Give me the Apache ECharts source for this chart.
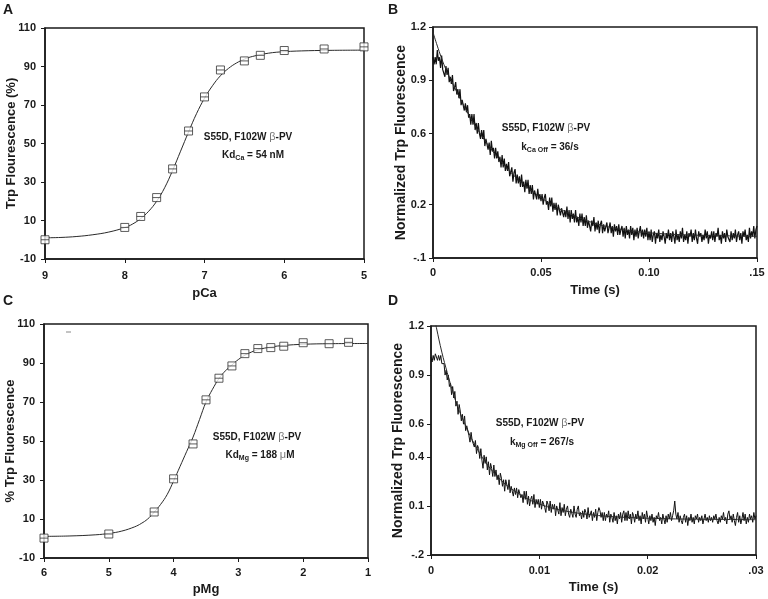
<!DOCTYPE html>
<html>
<head>
<meta charset="utf-8">
<title>S55D, F102W beta-PV</title>
<script src="https://cdn.jsdelivr.net/npm/echarts@6.0.0/dist/echarts.min.js"></script>
<style>
  html, body { margin: 0; padding: 0; background: #fff; }
  #chart { width: 768px; height: 599px; }
</style>
</head>
<body>
<div id="chart"></div>
<script>
// Panel A: Ca titration
const pCa = [9.0, 8.0, 7.8, 7.6, 7.4, 7.2, 7.0, 6.8, 6.5, 6.3, 6.0, 5.5, 5.0];
const caFluor = [0.0, 6.4, 12.1, 21.9, 36.8, 56.5, 74.2, 88.2, 92.9, 95.8, 98.3, 99.1, 100.2];
const caFitX = [9.0, 8.8, 8.6, 8.4, 8.2, 8.0, 7.9, 7.8, 7.7, 7.6, 7.5, 7.4, 7.3, 7.2, 7.1, 7.0, 6.9, 6.8, 6.7, 6.6, 6.5, 6.4, 6.2, 6.0, 5.7, 5.4, 5.0];
const caFitY = [1.0, 1.2, 1.7, 2.6, 4.0, 6.3, 8.2, 11.0, 14.8, 20.0, 27.0, 36.0, 46.0, 56.0, 65.5, 73.5, 80.0, 85.2, 89.0, 91.8, 93.8, 95.2, 96.9, 97.7, 98.2, 98.4, 98.5];

// Panel C: Mg titration
const pMg = [6.0, 5.0, 4.3, 4.0, 3.7, 3.5, 3.3, 3.1, 2.9, 2.7, 2.5, 2.3, 2.0, 1.6, 1.3];
const mgFluor = [0.2, 2.3, 13.6, 30.6, 48.5, 71.1, 82.2, 88.5, 94.8, 97.4, 97.9, 98.6, 100.4, 99.9, 100.6];
const mgFitX = [6.0, 5.6, 5.2, 5.0, 4.8, 4.6, 4.5, 4.4, 4.3, 4.2, 4.1, 4.0, 3.9, 3.8, 3.7, 3.6, 3.5, 3.4, 3.3, 3.2, 3.1, 3.0, 2.9, 2.8, 2.7, 2.5, 2.3, 2.0, 1.6, 1.0];
const mgFitY = [1.1, 1.3, 1.9, 2.6, 3.8, 6.0, 7.7, 10.0, 13.5, 17.5, 22.5, 29.5, 37.0, 44.5, 52.0, 61.0, 70.0, 76.5, 82.0, 86.0, 89.0, 91.8, 94.0, 95.6, 96.8, 98.2, 99.0, 99.6, 99.9, 100.0];

// Panel B: Ca off stopped-flow trace, one value per 0.5 ms (20 per row = 10 ms)
const caOffStep = 0.0005;
const caOffTrace = [
  1.03, 0.99, 1.03, 0.99, 1.07, 1.01, 1.03, 0.97, 1.04, 0.96, 0.97, 0.92, 0.98, 0.93, 0.97, 0.89, 0.92, 0.88, 0.93, 0.84,
  0.86, 0.89, 0.82, 0.85, 0.80, 0.85, 0.76, 0.79, 0.80, 0.73, 0.77, 0.72, 0.76, 0.69, 0.71, 0.65, 0.71, 0.65, 0.71, 0.62,
  0.66, 0.60, 0.66, 0.60, 0.57, 0.62, 0.57, 0.62, 0.53, 0.57, 0.58, 0.51, 0.55, 0.48, 0.56, 0.50, 0.52, 0.46, 0.52, 0.46,
  0.50, 0.44, 0.47, 0.41, 0.48, 0.41, 0.46, 0.39, 0.43, 0.39, 0.44, 0.36, 0.37, 0.41, 0.33, 0.38, 0.40, 0.32, 0.37, 0.32,
  0.36, 0.30, 0.37, 0.30, 0.33, 0.27, 0.34, 0.29, 0.34, 0.26, 0.31, 0.26, 0.31, 0.23, 0.28, 0.29, 0.23, 0.29, 0.23, 0.26,
  0.22, 0.26, 0.20, 0.24, 0.26, 0.20, 0.22, 0.17, 0.24, 0.19, 0.24, 0.16, 0.21, 0.17, 0.21, 0.14, 0.20, 0.21, 0.14, 0.18,
  0.19, 0.13, 0.17, 0.13, 0.19, 0.12, 0.17, 0.10, 0.17, 0.12, 0.15, 0.10, 0.17, 0.10, 0.13, 0.08, 0.15, 0.10, 0.15, 0.08,
  0.13, 0.08, 0.14, 0.07, 0.11, 0.12, 0.05, 0.11, 0.08, 0.13, 0.05, 0.10, 0.06, 0.11, 0.04, 0.09, 0.11, 0.04, 0.09, 0.05,
  0.05, 0.10, 0.04, 0.07, 0.10, 0.04, 0.08, 0.02, 0.09, 0.05, 0.08, 0.03, 0.09, 0.03, 0.06, 0.08, 0.02, 0.07, 0.01, 0.08,
  0.03, 0.06, 0.01, 0.08, 0.03, 0.07, 0.00, 0.06, 0.02, 0.07, 0.01, 0.05, 0.08, 0.02, 0.06, 0.01, 0.06, 0.02, 0.07, 0.00,
  0.05, 0.00, 0.06, -0.01, 0.03, 0.05, -0.02, 0.04, 0.01, 0.06, -0.01, 0.03, 0.00, 0.05, 0.02, -0.02, 0.04, 0.01, 0.06, 0.00,
  0.04, -0.01, 0.05, 0.02, -0.02, 0.06, 0.00, 0.03, -0.01, 0.05, 0.01, 0.07, -0.01, 0.03, 0.00, 0.05, -0.02, 0.04, 0.02, 0.06,
  -0.01, 0.04, 0.00, 0.06, 0.01, -0.02, 0.05, 0.02, 0.04, -0.01, 0.03, 0.00, 0.06, 0.01, 0.05, -0.02, 0.03, 0.01, 0.05, 0.00,
  0.05, -0.01, 0.04, 0.02, 0.07, 0.00, 0.03, -0.02, 0.05, 0.01, 0.04, -0.01, 0.06, 0.02, 0.03, -0.01, 0.05, 0.00, 0.04, 0.01,
  0.06, -0.01, 0.03, 0.05, 0.00, 0.04, -0.02, 0.05, 0.02, 0.06, 0.00, 0.03, -0.01, 0.07, 0.01, 0.05, 0.02, 0.08, 0.01, 0.06,
  0.08
];
const caOffFitT = [0, 0.005, 0.01, 0.015, 0.02, 0.025, 0.03, 0.035, 0.04, 0.045, 0.05, 0.055, 0.06, 0.065, 0.07, 0.075, 0.08, 0.09, 0.10, 0.11, 0.12, 0.135, 0.15];
const caOffFitY = [1.17, 0.99, 0.86, 0.74, 0.635, 0.545, 0.465, 0.395, 0.335, 0.285, 0.24, 0.20, 0.168, 0.14, 0.115, 0.095, 0.078, 0.055, 0.042, 0.034, 0.029, 0.025, 0.022];

// Panel D: Mg off stopped-flow trace, one value per 0.1 ms (20 per row = 2 ms)
const mgOffStep = 0.0001;
const mgOffTrace = [
  1.01, 0.98, 1.02, 0.99, 1.03, 1.02, 0.99, 1.02, 0.99, 1.02, 0.97, 0.98, 0.97, 0.90, 0.93, 0.87, 0.90, 0.83, 0.85, 0.78,
  0.83, 0.76, 0.80, 0.71, 0.74, 0.66, 0.72, 0.68, 0.62, 0.66, 0.60, 0.65, 0.56, 0.59, 0.59, 0.53, 0.49, 0.55, 0.50, 0.51,
  0.46, 0.50, 0.42, 0.47, 0.45, 0.39, 0.45, 0.38, 0.33, 0.41, 0.36, 0.40, 0.32, 0.37, 0.29, 0.36, 0.33, 0.28, 0.35, 0.28,
  0.32, 0.26, 0.29, 0.23, 0.30, 0.27, 0.22, 0.26, 0.19, 0.26, 0.25, 0.20, 0.26, 0.18, 0.22, 0.23, 0.16, 0.21, 0.17, 0.21,
  0.15, 0.20, 0.21, 0.15, 0.17, 0.12, 0.19, 0.14, 0.19, 0.11, 0.16, 0.10, 0.14, 0.16, 0.11, 0.17, 0.09, 0.14, 0.11, 0.14,
  0.09, 0.14, 0.08, 0.13, 0.14, 0.09, 0.06, 0.13, 0.11, 0.07, 0.13, 0.06, 0.11, 0.08, 0.11, 0.04, 0.10, 0.09, 0.05, 0.12,
  0.04, 0.09, 0.06, 0.11, 0.04, 0.08, 0.10, 0.05, 0.03, 0.08, 0.07, 0.03, 0.10, 0.05, 0.03, 0.08, 0.10, 0.04, 0.06, 0.02,
  0.07, 0.03, 0.08, 0.06, 0.02, 0.09, 0.03, 0.05, 0.07, 0.01, 0.06, 0.03, 0.08, 0.01, 0.06, 0.09, 0.07, 0.03, 0.06, 0.01,
  0.06, 0.01, 0.05, 0.03, 0.07, 0.00, 0.05, 0.03, 0.00, 0.06, 0.01, 0.04, -0.01, 0.05, 0.02, 0.06, 0.00, 0.05, 0.07, 0.01,
  0.06, 0.01, 0.07, 0.02, 0.05, -0.01, 0.06, 0.04, 0.00, 0.05, 0.02, 0.07, 0.01, 0.04, -0.01, 0.06, 0.02, 0.05, 0.00, 0.07,
  0.03, -0.01, 0.04, 0.01, 0.05, 0.00, 0.03, -0.02, 0.04, 0.02, 0.06, 0.01, 0.03, -0.01, 0.05, 0.02, -0.01, 0.04, 0.00, 0.05,
  0.02, 0.06, 0.01, 0.04, 0.07, 0.13, 0.05, 0.02, 0.06, 0.00, 0.04, 0.01, -0.01, 0.03, 0.05, 0.00, 0.04, -0.02, 0.03, 0.01,
  0.05, 0.00, 0.03, -0.01, 0.04, 0.02, 0.05, 0.00, 0.03, 0.01, 0.04, -0.01, 0.02, 0.05, 0.01, 0.03, 0.00, 0.04, 0.01, 0.03,
  0.00, 0.04, 0.02, 0.05, 0.01, -0.01, 0.03, 0.00, 0.04, 0.02, 0.06, 0.01, 0.03, -0.01, 0.05, 0.07, 0.02, 0.04, 0.00, 0.05,
  0.01, -0.02, 0.03, 0.06, 0.00, 0.04, -0.01, 0.02, 0.06, 0.01, 0.05, -0.01, 0.03, 0.00, 0.05, 0.02, 0.04, 0.00, 0.06, 0.02,
  0.04
];
const mgOffFitT = [0, 0.0005, 0.001, 0.0015, 0.002, 0.0025, 0.003, 0.0035, 0.004, 0.005, 0.006, 0.007, 0.008, 0.009, 0.010, 0.011, 0.012, 0.013, 0.014, 0.016, 0.018, 0.020, 0.023, 0.026, 0.030];
const mgOffFitY = [1.35, 1.19, 1.04, 0.915, 0.80, 0.70, 0.62, 0.545, 0.48, 0.37, 0.29, 0.225, 0.18, 0.14, 0.112, 0.09, 0.074, 0.062, 0.052, 0.038, 0.030, 0.025, 0.020, 0.018, 0.016];

// Tick values and their printed labels
const titrTicksY = [-10, 10, 30, 50, 70, 90, 110];
const titrLabelsY = ['-10', '10', '30', '50', '70', '90', '110'];
const pCaTicks = [9, 8, 7, 6, 5];
const pCaLabels = ['9', '8', '7', '6', '5'];
const pMgTicks = [6, 5, 4, 3, 2, 1];
const pMgLabels = ['6', '5', '4', '3', '2', '1'];
const caTimeTicks = [0, 0.05, 0.10, 0.15];
const caTimeLabels = ['0', '0.05', '0.10', '.15'];
const caNormTicks = [-0.1, 0.2, 0.6, 0.9, 1.2];
const caNormLabels = ['-.1', '0.2', '0.6', '0.9', '1.2'];
const mgTimeTicks = [0, 0.01, 0.02, 0.03];
const mgTimeLabels = ['0', '0.01', '0.02', '.03'];
const mgNormTicks = [-0.2, 0.1, 0.4, 0.6, 0.9, 1.2];
const mgNormLabels = ['-.2', '0.1', '0.4', '0.6', '0.9', '1.2'];

const FONT = '"Liberation Sans", Arial, Helvetica, sans-serif';
const INK = '#1a1a1a';
const SQUARE = 'path://M0,0L10,0L10,10L0,10Z M0,5L10,5';

const zip = (xs, ys) => xs.map((x, i) => [x, ys[i]]);
const trace = (vals, step) => vals.map((v, i) => [i * step, v]);

function labelFor(ticks, labels) {
    return v => {
        const i = ticks.findIndex(t => Math.abs(t - v) < 1e-9);
        return i < 0 ? '' : labels[i];
    };
}

function valueAxis(o) {
    return {
        type: 'value',
        gridIndex: o.grid,
        min: o.min,
        max: o.max,
        inverse: !!o.inverse,
        name: o.name,
        nameLocation: 'middle',
        nameGap: o.nameGap,
        nameMoveOverlap: false,
        nameTextStyle: { fontFamily: FONT, fontWeight: 'bold', fontSize: o.nameSize, color: INK },
        axisLine: { show: true, onZero: false, lineStyle: { color: INK, width: 1.5 } },
        axisTick: { show: true, length: 4, customValues: o.ticks, lineStyle: { color: INK, width: 1 } },
        axisLabel: {
            customValues: o.ticks,
            formatter: labelFor(o.ticks, o.labels),
            margin: o.margin,
            fontFamily: FONT,
            fontWeight: 'bold',
            fontSize: 11,
            color: INK
        },
        splitLine: { show: false }
    };
}

function fitLine(xi, data) {
    return {
        type: 'line', xAxisIndex: xi, yAxisIndex: xi, data,
        smooth: 0.4, showSymbol: false, silent: true,
        lineStyle: { color: '#2a2a2a', width: 1 }, z: 4
    };
}

function points(xi, data) {
    return {
        type: 'scatter', xAxisIndex: xi, yAxisIndex: xi, data,
        symbol: SQUARE, symbolSize: 8,
        itemStyle: { color: '#fff', borderColor: '#333', borderWidth: 1 }, z: 5
    };
}

function rawTrace(xi, data, width) {
    return {
        type: 'line', xAxisIndex: xi, yAxisIndex: xi, data,
        showSymbol: false, silent: true,
        lineStyle: { color: '#111', width }, z: 3
    };
}

const rich = {
    n: { fontFamily: FONT, fontSize: 10, fontWeight: 'bold', fill: INK, lineHeight: 14 },
    s: { fontFamily: FONT, fontSize: 7, fontWeight: 'bold', fill: INK, lineHeight: 7, verticalAlign: 'bottom' },
    g: { fontFamily: FONT, fontSize: 11, fontWeight: 'normal', fill: '#777', lineHeight: 14 }
};

function note(x, y, text) {
    return { type: 'text', x, y, silent: true, style: { text, rich, align: 'center', verticalAlign: 'middle' } };
}

function letter(x, y, text) {
    return { type: 'text', x, y, silent: true, style: { text, fontFamily: FONT, fontSize: 14, fontWeight: 'bold', fill: INK } };
}

const gridStyle = { show: true, borderColor: INK, borderWidth: 1.5, backgroundColor: 'transparent' };

const option = {
    animation: false,
    backgroundColor: '#fff',
    textStyle: { fontFamily: FONT },
    grid: [
        Object.assign({ left: 45, top: 28, width: 319, height: 231 }, gridStyle),
        Object.assign({ left: 433, top: 27, width: 324, height: 231 }, gridStyle),
        Object.assign({ left: 44, top: 324, width: 324, height: 234 }, gridStyle),
        Object.assign({ left: 431, top: 326, width: 325, height: 229 }, gridStyle)
    ],
    xAxis: [
        valueAxis({ grid: 0, min: 5, max: 9, inverse: true, ticks: pCaTicks, labels: pCaLabels, name: 'pCa', nameGap: 28, nameSize: 13, margin: 11 }),
        valueAxis({ grid: 1, min: 0, max: 0.15, ticks: caTimeTicks, labels: caTimeLabels, name: 'Time (s)', nameGap: 26, nameSize: 13, margin: 9 }),
        valueAxis({ grid: 2, min: 1, max: 6, inverse: true, ticks: pMgTicks, labels: pMgLabels, name: 'pMg', nameGap: 25, nameSize: 13, margin: 9 }),
        valueAxis({ grid: 3, min: 0, max: 0.03, ticks: mgTimeTicks, labels: mgTimeLabels, name: 'Time (s)', nameGap: 26, nameSize: 13, margin: 10 })
    ],
    yAxis: [
        valueAxis({ grid: 0, min: -10, max: 110, ticks: titrTicksY, labels: titrLabelsY, name: 'Trp Flourescence (%)', nameGap: 27, nameSize: 13, margin: 9 }),
        valueAxis({ grid: 1, min: -0.1, max: 1.2, ticks: caNormTicks, labels: caNormLabels, name: 'Normalized Trp Fluorescence', nameGap: 25, nameSize: 14, margin: 7 }),
        valueAxis({ grid: 2, min: -10, max: 110, ticks: titrTicksY, labels: titrLabelsY, name: '% Trp Fluorescence', nameGap: 27, nameSize: 13, margin: 9 }),
        valueAxis({ grid: 3, min: -0.2, max: 1.2, ticks: mgNormTicks, labels: mgNormLabels, name: 'Normalized Trp Fluorescence', nameGap: 26, nameSize: 14, margin: 7 })
    ],
    series: [
        fitLine(0, zip(caFitX, caFitY)),
        points(0, zip(pCa, caFluor)),
        rawTrace(1, trace(caOffTrace, caOffStep), 1.2),
        fitLine(1, zip(caOffFitT, caOffFitY)),
        fitLine(2, zip(mgFitX, mgFitY)),
        points(2, zip(pMg, mgFluor)),
        rawTrace(3, trace(mgOffTrace, mgOffStep), 1),
        fitLine(3, zip(mgOffFitT, mgOffFitY))
    ],
    graphic: [
        letter(3, 3, 'A'),
        letter(388, 3, 'B'),
        letter(3, 294, 'C'),
        letter(388, 294, 'D'),
        note(248, 137, '{n|S55D, F102W }{g|β}{n|-PV}'),
        note(253, 155, '{n|Kd}{s|Ca}{n| = 54 nM}'),
        note(546, 128, '{n|S55D, F102W }{g|β}{n|-PV}'),
        note(550, 147, '{n|k}{s|Ca Off}{n| = 36/s}'),
        note(257, 437, '{n|S55D, F102W }{g|β}{n|-PV}'),
        note(260, 455, '{n|Kd}{s|Mg}{n| = 188 }{g|μ}{n|M}'),
        note(540, 423, '{n|S55D, F102W }{g|β}{n|-PV}'),
        note(542, 442, '{n|k}{s|Mg Off}{n| = 267/s}'),
        { type: 'line', silent: true, shape: { x1: 66, y1: 332, x2: 71, y2: 332 }, style: { stroke: '#888', lineWidth: 1 } }
    ]
};

const chart = echarts.init(document.getElementById('chart'), null, { renderer: 'canvas' });
chart.setOption(option);
</script>
</body>
</html>
